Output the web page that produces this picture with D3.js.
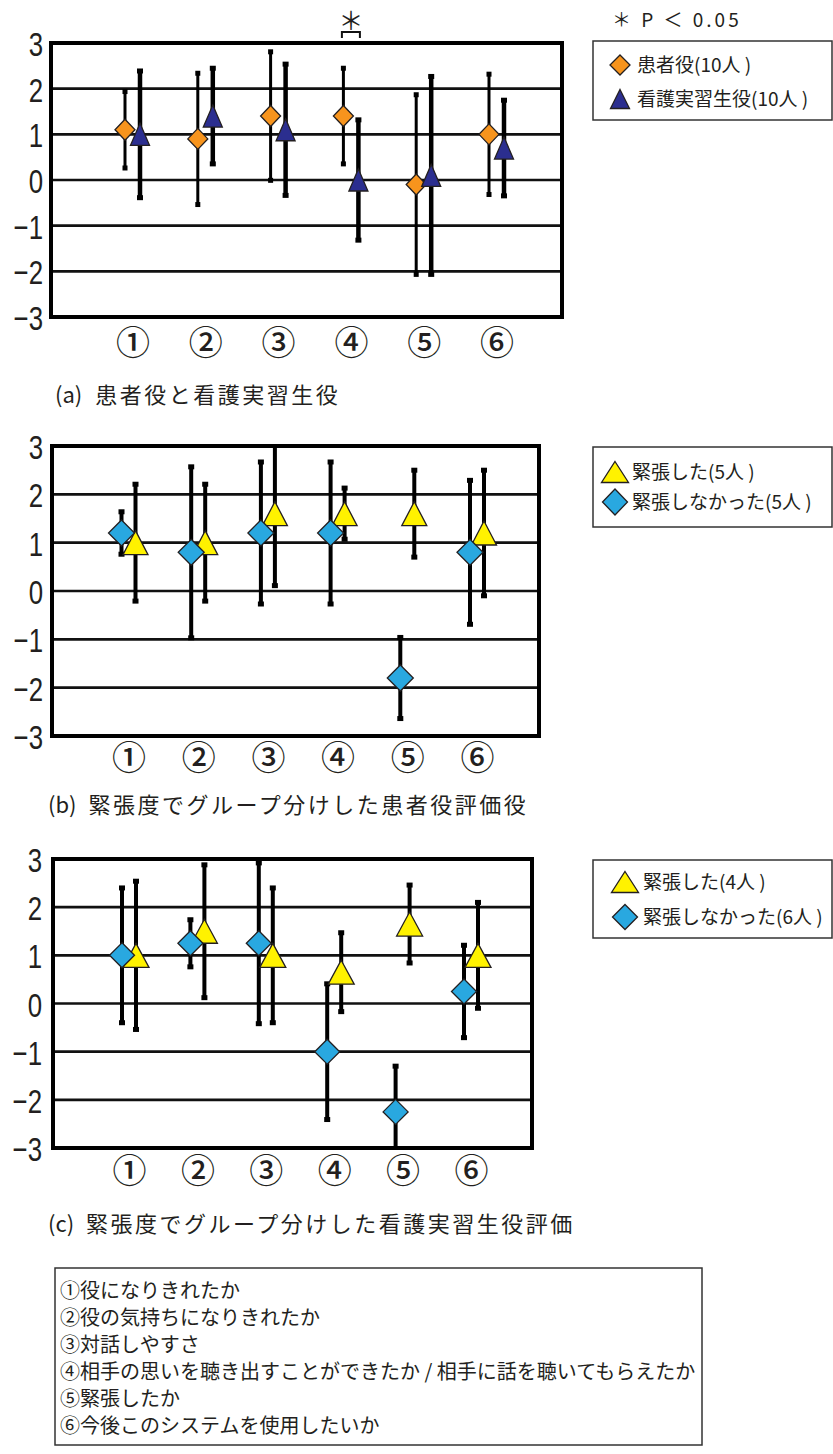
<!DOCTYPE html>
<html lang="ja">
<head>
<meta charset="utf-8">
<script src="https://cdn.jsdelivr.net/npm/d3@7"></script>
<style>
  html, body { margin: 0; padding: 0; background: #fff; }
  svg { display: block; }
  .jp { font-family: "Noto Sans CJK JP", "Noto Sans", sans-serif; fill: #231f20; }
  .num { font-family: "Liberation Sans", Arial, sans-serif; fill: #231f20; }
</style>
</head>
<body>
<script>
// ---- data ----
const categories = ["①", "②", "③", "④", "⑤", "⑥"];
const yTicks = [-3, -2, -1, 0, 1, 2, 3];

// (a) 患者役 / 看護実習生役 : mean and SD per item
const patientMean = [1.1, 0.9, 1.4, 1.4, -0.1, 1.0];
const patientSD   = [0.87, 1.47, 1.44, 1.08, 2.0, 1.35];
const studentMean = [1.0, 1.4, 1.1, 0.0, 0.1, 0.7];
const studentSD   = [1.42, 1.08, 1.47, 1.35, 2.2, 1.08];

// (b) 患者役評価: 緊張した / 緊張しなかった
const bTenseMean    = [1.0, 1.0, 1.6, 1.6, 1.6, 1.2];
const bTenseSD      = [1.24, 1.24, 1.52, 0.56, 0.93, 1.33];
const bRelaxedMean  = [1.2, 0.8, 1.2, 1.2, -1.8, 0.8];
const bRelaxedSD    = [0.47, 1.8, 1.5, 1.5, 0.87, 1.52];

// (c) 看護実習生役評価: 緊張した / 緊張しなかった
const cTenseMean    = [1.0, 1.5, 1.0, 0.65, 1.65, 1.0];
const cTenseSD      = [1.57, 1.41, 1.43, 0.85, 0.84, 1.13];
const cRelaxedMean  = [1.0, 1.25, 1.25, -1.0, -2.25, 0.25];
const cRelaxedSD    = [1.43, 0.52, 1.7, 1.44, 0.98, 0.99];

const itemLabels = [
  "①役になりきれたか",
  "②役の気持ちになりきれたか",
  "③対話しやすさ",
  "④相手の思いを聴き出すことができたか / 相手に話を聴いてもらえたか",
  "⑤緊張したか",
  "⑥今後このシステムを使用したいか"
];

// ---- colours ----
const ORANGE = "#f7941d", NAVY = "#2b2e8f", YELLOW = "#fff200", BLUE = "#29a8e0";
const OUTLINE = "#231f20";

const svg = d3.select("body").append("svg")
  .attr("width", 833).attr("height", 1454);

// marker outlines, centred on their bounding box
function diamondPath(w, h) {
  return `M0,${-h / 2}L${w / 2},0L0,${h / 2}L${-w / 2},0Z`;
}
function trianglePath(w, h) {
  return `M0,${-h / 2}L${w / 2},${h / 2}L${-w / 2},${h / 2}Z`;
}
function markerPath(shape, w, h) {
  return shape === "diamond" ? diamondPath(w, h) : trianglePath(w, h);
}

function drawPanel(cfg) {
  const g = svg.append("g");
  const y = d3.scaleLinear().domain([-3, 3]).range([cfg.bottom, cfg.top]);
  const x = d3.scalePoint().domain(categories).range([cfg.firstX, cfg.lastX]);

  // horizontal gridlines
  g.selectAll("line.grid").data(yTicks.filter(v => v > -3 && v < 3)).join("line")
    .attr("x1", cfg.left).attr("x2", cfg.right)
    .attr("y1", d => y(d)).attr("y2", d => y(d))
    .attr("stroke", "#111").attr("stroke-width", 2.6);

  // y axis labels (tall, narrow digits)
  const ay = g.append("g").attr("transform", `translate(${cfg.labelX},0)`)
    .call(d3.axisLeft(y).tickValues(yTicks).tickSize(0).tickPadding(0)
      .tickFormat(d => d < 0 ? "\u2212" + Math.abs(d) : String(d)));
  ay.select(".domain").remove();
  ay.selectAll("text").attr("class", "num").attr("font-size", 34)
    .attr("dy", "0.37em").attr("transform", "scale(0.76,1)");

  // category labels
  const ax = g.append("g").attr("transform", `translate(0,${cfg.catY})`)
    .call(d3.axisBottom(x).tickSize(0).tickPadding(0));
  ax.select(".domain").remove();
  ax.selectAll("text").attr("class", "jp").attr("font-size", 34)
    .attr("font-weight", 500).attr("dy", "0.36em");

  // error bars (clipped to the value range)
  cfg.series.forEach(s => {
    const bars = g.append("g");
    categories.forEach((c, i) => {
      const cx = x(c) + s.offset;
      const hiV = s.mean[i] + s.sd[i], loV = s.mean[i] - s.sd[i];
      const hi = Math.min(3, hiV), lo = Math.max(-3, loV);
      bars.append("line")
        .attr("x1", cx).attr("x2", cx).attr("y1", y(hi)).attr("y2", y(lo))
        .attr("stroke", "#000").attr("stroke-width", s.barW);
      if (hiV <= 3) bars.append("rect").attr("x", cx - s.capW / 2).attr("y", y(hi) - 1)
        .attr("width", s.capW).attr("height", 5).attr("fill", "#000");
      if (loV >= -3) bars.append("rect").attr("x", cx - s.capW / 2).attr("y", y(lo) - 4)
        .attr("width", s.capW).attr("height", 5).attr("fill", "#000");
    });
  });

  // markers
  cfg.series.forEach(s => {
    g.append("g").selectAll("path").data(categories).join("path")
      .attr("transform", (c, i) => `translate(${x(c) + s.offset},${y(s.mean[i])})`)
      .attr("d", markerPath(s.shape, s.w, s.h))
      .attr("fill", s.color).attr("stroke", OUTLINE).attr("stroke-width", 1.3)
      .attr("stroke-linejoin", "miter");
  });

  // plot frame
  g.append("rect")
    .attr("x", cfg.left).attr("y", cfg.top)
    .attr("width", cfg.right - cfg.left).attr("height", cfg.bottom - cfg.top)
    .attr("fill", "none").attr("stroke", "#000").attr("stroke-width", 4);

  // legend
  const lg = svg.append("g");
  lg.append("rect").attr("x", cfg.legend.x).attr("y", cfg.legend.y)
    .attr("width", cfg.legend.w).attr("height", cfg.legend.h)
    .attr("fill", "#fff").attr("stroke", "#333").attr("stroke-width", 1.5);
  cfg.legend.items.forEach(it => {
    const s = cfg.series[it.series];
    lg.append("path")
      .attr("transform", `translate(${it.mx},${it.y})`)
      .attr("d", markerPath(s.shape, it.w, it.h))
      .attr("fill", s.color).attr("stroke", OUTLINE).attr("stroke-width", 1.3);
    lg.append("text").attr("class", "jp")
      .attr("x", it.tx).attr("y", it.y).attr("dy", "0.36em")
      .attr("font-size", 19).text(it.text);
  });

  // caption: "(x)" tag followed by the title
  const cap = svg.append("text").attr("class", "jp")
    .attr("x", cfg.caption.x).attr("y", cfg.caption.y).attr("dy", "0.36em")
    .attr("font-size", 22);
  cap.append("tspan").text(cfg.caption.tag);
  cap.append("tspan").attr("dx", cfg.caption.gap).attr("letter-spacing", "2.5px")
    .text(cfg.caption.text);

  return { x, y };
}

// (a)
const pa = drawPanel({
  top: 43, bottom: 317, left: 51, right: 562, labelX: 43,
  firstX: 132.5, lastX: 496.5, catY: 343,
  series: [
    { mean: patientMean, sd: patientSD, shape: "diamond", color: ORANGE, offset: -7.5, w: 20, h: 21, barW: 3, capW: 5 },
    { mean: studentMean, sd: studentSD, shape: "triangle", color: NAVY, offset: 7.5, w: 19, h: 22, barW: 4.5, capW: 6 }
  ],
  legend: {
    x: 593, y: 41, w: 239, h: 79,
    items: [
      { series: 0, mx: 620, y: 65, w: 20, h: 20, tx: 637, text: "患者役(10人 )" },
      { series: 1, mx: 620, y: 99, w: 19, h: 19, tx: 637, text: "看護実習生役(10人 )" }
    ]
  },
  caption: { x: 55, y: 395, tag: "(a)", gap: 13, text: "患者役と看護実習生役" }
});

// significance bracket over item ④
const cx4 = pa.x("④");
svg.append("path")
  .attr("d", `M${cx4 - 9},38V32H${cx4 + 9}V38`)
  .attr("fill", "none").attr("stroke", "#111").attr("stroke-width", 2);
svg.append("text").attr("class", "jp").attr("x", cx4).attr("y", 21).attr("dy", "0.36em")
  .attr("text-anchor", "middle").attr("font-size", 25).text("＊");
svg.append("text").attr("class", "jp").attr("x", 612).attr("y", 20).attr("dy", "0.36em")
  .attr("font-size", 19).attr("letter-spacing", "3px").text("＊ P ＜ 0.05");

// (b)
drawPanel({
  top: 446, bottom: 736, left: 52, right: 539, labelX: 43,
  firstX: 128.5, lastX: 477, catY: 758,
  series: [
    { mean: bTenseMean, sd: bTenseSD, shape: "triangle", color: YELLOW, offset: 7, w: 25, h: 24, barW: 4, capW: 6 },
    { mean: bRelaxedMean, sd: bRelaxedSD, shape: "diamond", color: BLUE, offset: -7, w: 26, h: 26, barW: 4, capW: 6 }
  ],
  legend: {
    x: 593, y: 447, w: 239, h: 80,
    items: [
      { series: 0, mx: 615, y: 472, w: 27, h: 21, tx: 632, text: "緊張した(5人 )" },
      { series: 1, mx: 615, y: 502, w: 25, h: 26, tx: 632, text: "緊張しなかった(5人 )" }
    ]
  },
  caption: { x: 48, y: 805, tag: "(b)", gap: 12, text: "緊張度でグループ分けした患者役評価役" }
});

// (c)
drawPanel({
  top: 859, bottom: 1148, left: 53, right: 532, labelX: 42,
  firstX: 129, lastX: 471, catY: 1171,
  series: [
    { mean: cTenseMean, sd: cTenseSD, shape: "triangle", color: YELLOW, offset: 7, w: 26, h: 24, barW: 4, capW: 6 },
    { mean: cRelaxedMean, sd: cRelaxedSD, shape: "diamond", color: BLUE, offset: -7, w: 25, h: 25, barW: 4, capW: 6 }
  ],
  legend: {
    x: 593, y: 860, w: 239, h: 78,
    items: [
      { series: 0, mx: 625, y: 882, w: 27, h: 21, tx: 643, text: "緊張した(4人 )" },
      { series: 1, mx: 625, y: 917, w: 25, h: 25, tx: 643, text: "緊張しなかった(6人 )" }
    ]
  },
  caption: { x: 48, y: 1224, tag: "(c)", gap: 12, text: "緊張度でグループ分けした看護実習生役評価" }
});

// item descriptions
const box = svg.append("g");
box.append("rect").attr("x", 55).attr("y", 1268).attr("width", 647).attr("height", 177)
  .attr("fill", "#fff").attr("stroke", "#333").attr("stroke-width", 1.5);
box.selectAll("text").data(itemLabels).join("text").attr("class", "jp")
  .attr("x", 60).attr("y", (d, i) => 1291 + i * 27).attr("dy", "0.36em")
  .attr("font-size", 20).text(d => d);
</script>
</body>
</html>
